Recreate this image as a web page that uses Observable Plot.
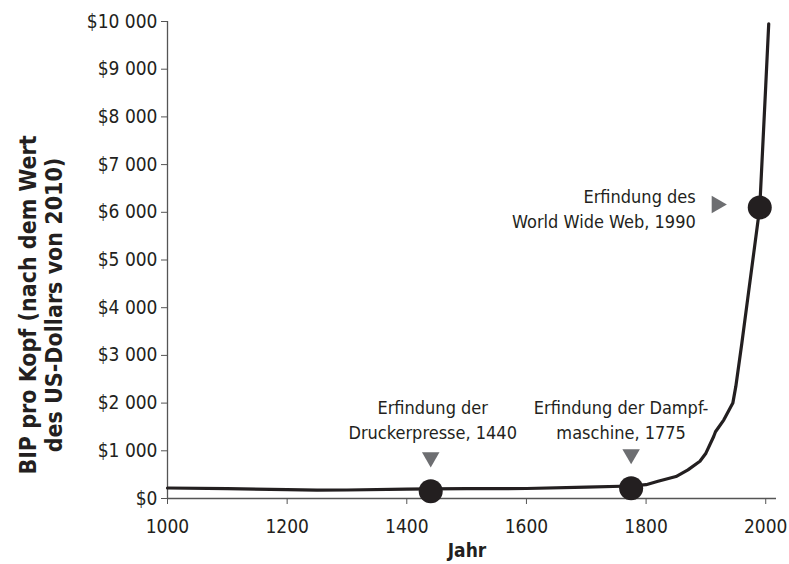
<!DOCTYPE html>
<html>
<head>
<meta charset="utf-8">
<script src="https://cdn.jsdelivr.net/npm/d3@7"></script>
<script src="https://cdn.jsdelivr.net/npm/@observablehq/plot@0.6"></script>
<style>
  html, body { margin: 0; padding: 0; background: #fff; }
  svg { display: block; }
</style>
</head>
<body>
<div id="chart"></div>
<script>
// --- data ---
const years  = [1000, 1100, 1200, 1250, 1300, 1400, 1440, 1500, 1600, 1700, 1775, 1800, 1820, 1850, 1870, 1890, 1900, 1913, 1916, 1930, 1945, 1950, 1960, 1970, 1980, 1990, 2000, 2005];
const gdp    = [220, 205, 185, 175, 178, 195, 200, 205, 210, 240, 262, 290, 360, 460, 600, 780, 950, 1300, 1400, 1650, 2000, 2350, 3250, 4200, 5150, 6100, 8650, 9950];

const eventYears  = [1440, 1775, 1990];
const eventValues = [150, 215, 6100];
const eventLabels = ["Erfindung der\nDruckerpresse, 1440", "Erfindung der Dampf-\nmaschine, 1775", "Erfindung des\nWorld Wide Web, 1990"];

const yTicks = [0, 1000, 2000, 3000, 4000, 5000, 6000, 7000, 8000, 9000, 10000];
const xTicks = [1000, 1200, 1400, 1600, 1800, 2000];
const yLabel = "BIP pro Kopf (nach dem Wert\ndes US-Dollars von 2010)";
const xLabel = "Jahr";

// --- build tables ---
const series = years.map((y, i) => ({year: y, value: gdp[i]}));
const events = eventYears.map((y, i) => ({year: y, value: eventValues[i], label: eventLabels[i]}));

const FONT = "'Liberation Sans Narrow', 'DejaVu Sans Condensed', 'Liberation Sans', sans-serif";
const ink = "#231f20";
const fmt = d => "$" + d3.format(",")(d).replace(/,/g, " ");

const chart = Plot.plot({
  width: 789,
  height: 564,
  marginLeft: 167,
  marginRight: 13,
  marginTop: 21,
  marginBottom: 66,
  style: {fontFamily: FONT, fontSize: "19px", color: "#231f20", background: "#fff", fontStretch: "condensed"},
  x: {domain: [1000, 2018], label: null},
  y: {domain: [0, 10000], label: null},
  marks: [
    Plot.ruleY([0], {stroke: "#555", strokeWidth: 1.3}),
    Plot.ruleX([1000], {y1: 0, y2: 10000, stroke: "#555", strokeWidth: 1.3}),
    Plot.axisX({ticks: xTicks, tickFormat: d => String(d), tickSize: 6, tickPadding: 15, stroke: "#555", fill: ink, fontSize: 19, label: null}),
    Plot.axisY({ticks: yTicks, tickFormat: fmt, tickSize: 6, tickPadding: 4, stroke: "#555", fill: ink, fontSize: 19, label: null}),
    Plot.line(series, {x: "year", y: "value", stroke: ink, strokeWidth: 3.2, curve: "linear"}),
    Plot.dot(events, {x: "year", y: "value", r: 12, fill: ink, stroke: null}),
    // triangle markers
    Plot.dot(events.slice(0, 2), {x: "year", y: "value", symbol: "triangle", rotate: 180, r: 6.5, fill: "#6d6e71", stroke: null, dy: -34}),
    Plot.dot(events.slice(2), {x: "year", y: "value", symbol: "triangle", rotate: 90, r: 6.5, fill: "#6d6e71", stroke: null, dx: -43, dy: -3}),
    // annotation labels
    Plot.text(events.slice(0, 1), {x: "year", y: "value", text: "label", textAnchor: "middle", lineAnchor: "middle", lineHeight: 1.4, dx: 2, dy: -73, fontSize: 18, fill: ink}),
    Plot.text(events.slice(1, 2), {x: "year", y: "value", text: "label", textAnchor: "middle", lineAnchor: "middle", lineHeight: 1.4, dx: -10, dy: -70, fontSize: 18, fill: ink}),
    Plot.text(events.slice(2), {x: "year", y: "value", text: "label", textAnchor: "end", lineAnchor: "middle", lineHeight: 1.4, dx: -64, dy: 0, fontSize: 18, fill: ink}),
    // axis titles
    Plot.text([yLabel], {frameAnchor: "left", text: d => d, rotate: -90, dx: -127, dy: 45, lineHeight: 1.12, fontWeight: "bold", fontSize: 23, fill: ink, textAnchor: "middle"}),
    Plot.text([xLabel], {frameAnchor: "bottom", text: d => d, dx: -5, dy: 58, fontWeight: "bold", fontSize: 19, fill: ink})
  ]
});

document.getElementById("chart").appendChild(chart);
</script>
</body>
</html>
